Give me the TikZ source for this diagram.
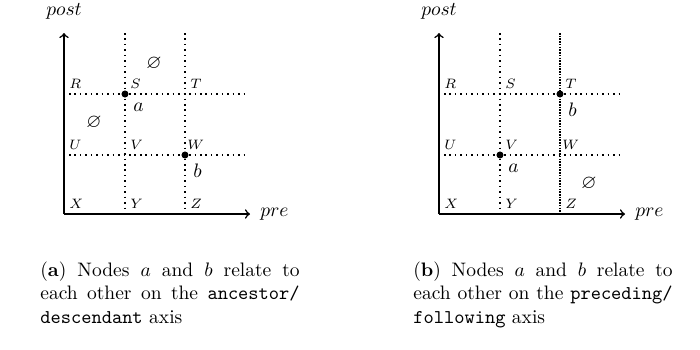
\documentclass[tikz,border=0pt]{standalone}
\usepackage{amssymb}
\usetikzlibrary{calc}
\tikzset{
  axisline/.style={thick,->},
  gridline/.style={thick,dotted},
  ptlabel/.style={font=\scriptsize,anchor=base west,inner sep=0pt},
  dotnode/.style={circle,fill=black,draw=none,inner sep=0pt,minimum size=3.6pt},
  nodelabel/.style={anchor=north west,inner sep=0pt},
  capbox/.style={anchor=north west,inner sep=0pt,text width=133pt,align=justify},
}
% grid panel: #1 = name prefix
\newcommand\mygridpanel[1]{%
  \coordinate (#1O) at (64,214);
  \coordinate (#1Ytop) at (64,33);
  \coordinate (#1Xend) at (250,214);
  \coordinate (#1v1t) at (125,33);
  \coordinate (#1v1b) at (125,214);
  \coordinate (#1v2t) at (185,33);
  \coordinate (#1v2b) at (185,214);
  \coordinate (#1h1l) at (69,94);
  \coordinate (#1h1r) at (248,94);
  \coordinate (#1h2l) at (69,155);
  \coordinate (#1h2r) at (248,155);
  \draw[gridline] (#1v1t) -- (#1v1b);
  \draw[gridline] (#1v2t) -- (#1v2b);
  \draw[gridline] (#1h1l) -- (#1h1r);
  \draw[gridline] (#1h2l) -- (#1h2r);
  \draw[axisline] (#1O) -- (#1Ytop);
  \draw[axisline] (#1O) -- (#1Xend);
  \node[anchor=south,inner sep=0pt,yshift=6.7pt] (#1post) at (#1Ytop) {$post$};
  \node[anchor=base west,inner sep=0pt,xshift=5.1pt,yshift=-1.5pt] (#1pre) at (#1Xend) {$pre$};
  \node[ptlabel] (#1R) at (69,88.5) {$R$};
  \node[ptlabel] (#1S) at (130,88.5) {$S$};
  \node[ptlabel] (#1T) at (190,88.5) {$T$};
  \node[ptlabel] (#1U) at (69,149) {$U$};
  \node[ptlabel] (#1V) at (130,149) {$V$};
  \node[ptlabel] (#1W) at (187,149) {$W$};
  \node[ptlabel] (#1X) at (69,208) {$X$};
  \node[ptlabel] (#1Y) at (130,208) {$Y$};
  \node[ptlabel] (#1Z) at (190,208) {$Z$};
}
\begin{document}
\begin{tikzpicture}[x=0.513pt,y=-0.513pt]
  \useasboundingbox (0,0) rectangle (700,349);
  % left panel
  \mygridpanel{L}
  \node[dotnode] (La) at (125,94) {};
  \node[dotnode] (Lb) at (185,155) {};
  \node[nodelabel] (Lalab) at (133,103) {$a$};
  \node[nodelabel] (Lblab) at (193,164) {$b$};
  \node (Le1) at (154,64) {$\varnothing$};
  \node (Le2) at (94,123) {$\varnothing$};
  \node[capbox] (Lcap) at (40,261.4) {(\textbf{a}) Nodes $a$ and $b$ relate to\linebreak each other on the \texttt{ancestor/}\linebreak \texttt{descendant} axis};
  % right panel
  \begin{scope}[shift={(375,0)}]
    \mygridpanel{R}
    \draw[thick,dotted,dash phase=1.4pt] (Rv2t) -- (Rv2b);
    \node[dotnode] (Ra) at (125,155) {};
    \node[dotnode] (Rb) at (185,94) {};
    \node[nodelabel] (Ralab) at (133,164) {$a$};
    \node[nodelabel] (Rblab) at (193,103) {$b$};
    \node (Re1) at (214,184) {$\varnothing$};
    \node[capbox] (Rcap) at (38,261.4) {(\textbf{b}) Nodes $a$ and $b$ relate to\linebreak each other on the \texttt{preceding/}\linebreak \texttt{following} axis};
  \end{scope}
\end{tikzpicture}
\end{document}
